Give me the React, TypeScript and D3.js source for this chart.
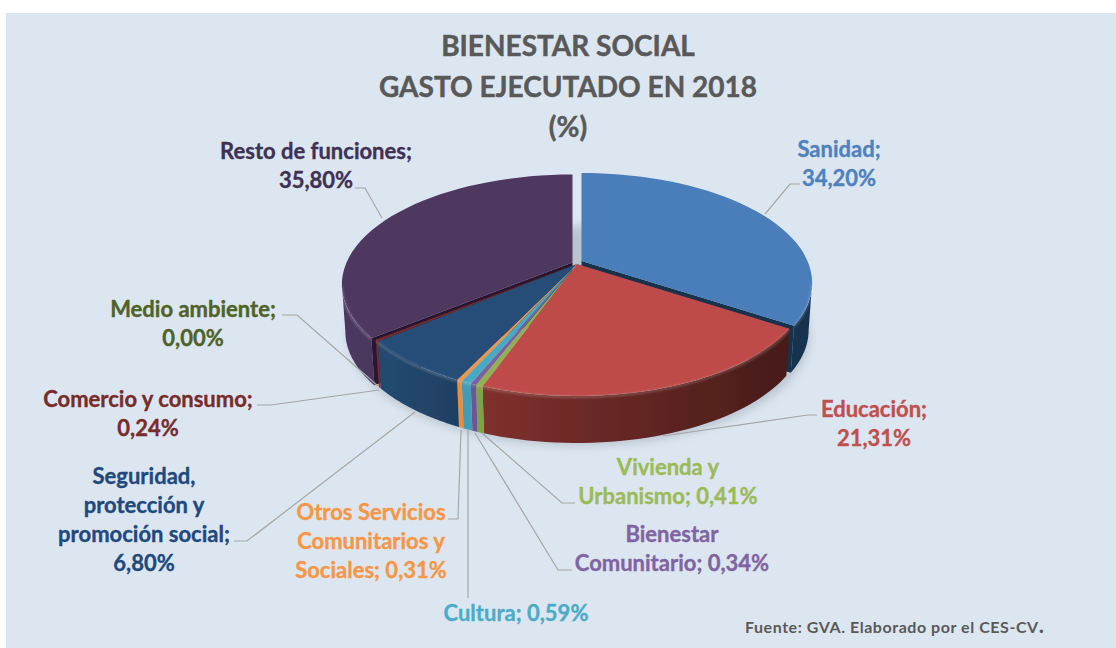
import React from "react";
import * as d3 from "d3";

const categories = ["Sanidad","Educación","Vivienda y Urbanismo","Bienestar Comunitario","Cultura","Otros Servicios Comunitarios y Sociales","Seguridad, protección y promoción social","Comercio y consumo","Medio ambiente","Resto de funciones"];
const values = [34.2,21.31,0.41,0.34,0.59,0.31,6.8,0.24,0.0,35.8];
const titleLines = ["BIENESTAR SOCIAL","GASTO EJECUTADO EN 2018","(%)"];
const labelLines = [
  ["Sanidad;","34,20%"],["Educación;","21,31%"],["Vivienda y","Urbanismo; 0,41%"],["Bienestar","Comunitario; 0,34%"],["Cultura; 0,59%"],
  ["Otros Servicios","Comunitarios y","Sociales; 0,31%"],["Seguridad,","protección y","promoción social;","6,80%"],["Comercio y consumo;","0,24%"],["Medio ambiente;","0,00%"],["Resto de funciones;","35,80%"],
];
const source = "Fuente: GVA. Elaborado por el CES-CV";

// styling, in category order
const topColors = ["#4a7ebb","#be4b48","#8fb14f","#7d60a0","#46aac5","#f0954a","#254d78","#7a2c2a","#5f7530","#4f3860"];
const wallLeft = ["#1f4468","#7f302d","#7fa33f","#6f5490","#3f9cb8","#e98d3f","#244a72","#7a2c2a","#4f6228","#4d3860"];
const wallRight = ["#17324e","#471c19","#7fa33f","#6f5490","#3f9cb8","#e98d3f","#1f3f62","#7a2c2a","#4f6228","#3e2c50"];
const textColors = ["#4f81bd","#c0504d","#9bbb59","#8064a2","#4bacc6","#f79646","#1f497d","#772c2a","#4f6228","#403152"];
const labelX = [839,874,668,672,516,371,144,148,193,316];
const labelY = [157,417,475,542,621,520,484,407,317,159];
const lineGap = 29;
const leaders: [number,number][][] = [
  [[765,214],[790,184],[800,184]],
  [[663,436],[808,415],[817,415]],
  [[482,433],[562,503],[575,503]],
  [[475,433],[558,570],[572,570]],
  [[468,430],[468,598]],
  [[461,430],[458,519],[448,519]],
  [[415,412],[247,541],[234,541]],
  [[379,390],[271,405],[257,405]],
  [[378,386],[297,315],[282,315]],
  [[382,218],[365,188],[355,188]],
];
const explode: Record<number,[number,number]> = { 0:[4.5,-3], 9:[-4.5,-1.5] };

const CX = 577, CY = 264, A = 105.6, K = 0.2, B = 226, DEPTH = 47, SHRINK = 0.985;
const project = (r:number, ang:number, dx=0, dy=0):[number,number] => {
  const u = r*Math.sin(ang), v = -r*Math.cos(ang), w = 1-K*v;
  return [CX+dx+B*u/w, CY+dy+A*v/w];
};
const drop = (p:[number,number]):[number,number] => [CX+(p[0]-CX)*SHRINK, p[1]+DEPTH];
const line = d3.line();
const arcs = d3.pie<number>().sort(null).value(d=>d)(values);
const rimPts = (a0:number,a1:number,dx:number,dy:number) => d3.range(0,41).map(i=>project(1,a0+(a1-a0)*i/40,dx,dy));

// the wall is only seen between the disc's right-most and left-most points
const sweep = d3.range(0,720).map(k=>k/720*2*Math.PI);
const angRight = sweep[d3.greatestIndex(sweep,a=>project(1,a)[0])];
const angLeft = sweep[d3.leastIndex(sweep,a=>project(1,a)[0])];

export default function App(){
  const order = [0,9,1,2,3,4,5,6,7,8];
  const slices = order.map(i=>{
    const a = arcs[i];
    const [dx,dy] = explode[i] ?? [0,0];
    const rim = rimPts(a.startAngle,a.endAngle,dx,dy);
    const apex = project(0,0,dx,dy);
    const top = line([apex,...rim])+"Z";
    const w0 = Math.max(a.startAngle,angRight), w1 = Math.min(a.endAngle,angLeft);
    const frontRim = w1>w0 ? rimPts(w0,w1,dx,dy) : [];
    const wall = frontRim.length ? line([...frontRim,...frontRim.slice().reverse().map(drop)])+"Z" : "";
    const s = rim[0], e = rim[rim.length-1];
    const cut0 = line([apex,s,drop(s),drop(apex)])+"Z";
    const cut1 = line([apex,e,drop(e),drop(apex)])+"Z";
    const rimPath = frontRim.length ? line(frontRim)||"" : "";
    const xs = rim.map(p=>p[0]);
    return {i,top,wall,cut0,cut1,rimPath,x0:d3.min(xs)!,x1:d3.max(xs)!};
  });
  const shadow = d3.range(0,73).map(k=>{
    const p = project(1,k/72*2*Math.PI);
    return [p[0]+2,p[1]+DEPTH+3] as [number,number];
  });
  return (
    <svg width={1116} height={648} style={{position:"absolute",left:0,top:0,display:"block"}} fontFamily="Lato, sans-serif">
      <defs>
        <filter id="sh" x="-20%" y="-20%" width="140%" height="140%"><feGaussianBlur stdDeviation="5"/></filter>
        <filter id="bev" x="-10%" y="-50%" width="120%" height="200%"><feGaussianBlur stdDeviation="1.1"/></filter>
        <filter id="soft" x="-5%" y="-5%" width="110%" height="110%"><feGaussianBlur stdDeviation="0.45"/></filter>
        {slices.map(s=>(
          <linearGradient key={s.i} id={`w${s.i}`} gradientUnits="userSpaceOnUse" x1={s.x0} x2={s.x1} y1={0} y2={0}>
            <stop offset="0" stopColor={wallLeft[s.i]}/>
            <stop offset="1" stopColor={wallRight[s.i]}/>
          </linearGradient>
        ))}
      </defs>
      <rect x={0} y={0} width={1116} height={648} fill="#ffffff"/>
      <rect x={6} y={13} width={1110} height={635} fill="#dce6f1"/>
      <path d={line(shadow)+"Z"} fill="#9fa9b5" opacity={0.55} filter="url(#sh)"/>
      <g filter="url(#soft)">
        {slices.map(s=>(
          <g key={s.i}>
            {s.wall && <path d={s.wall} fill={`url(#w${s.i})`}/>}
            {s.i===0 && <path d={s.cut1} fill="#14304e"/>}
            {s.i===9 && <path d={s.cut0} fill="#2b1830"/>}
            <path d={s.top} fill={topColors[s.i]}/>
            {s.rimPath && <path d={s.rimPath} fill="none" stroke="#ffffff" strokeOpacity={0.22} strokeWidth={2} filter="url(#bev)" transform="translate(0,1)"/>}
          </g>
        ))}
      </g>
      <g fill="none" stroke="#a6a6a6" strokeWidth={1.2}>
        {leaders.map((l,i)=><path key={i} d={line(l)||""}/>)}
      </g>
      <g textAnchor="middle" fontWeight={700} fontSize={28} fill="#595959" stroke="#595959" strokeWidth={0.45}>
        {titleLines.map((t,i)=><text key={t} x={568} y={56+i*40.5}>{t}</text>)}
      </g>
      <g textAnchor="middle" fontWeight={700} fontSize={22}>
        {labelLines.map((ls,i)=>ls.map((t,j)=>(
          <text key={t} x={labelX[i]} y={labelY[i]+j*lineGap} fill={textColors[i]} stroke={textColors[i]} strokeWidth={0.35}>{t}</text>
        )))}
      </g>
      <text x={745} y={633} fontWeight={700} fontSize={16} letterSpacing={0.55} fill="#595959">{source}<tspan fontSize={22}>.</tspan></text>
      <title>{categories.join(", ")}</title>
    </svg>
  );
}
